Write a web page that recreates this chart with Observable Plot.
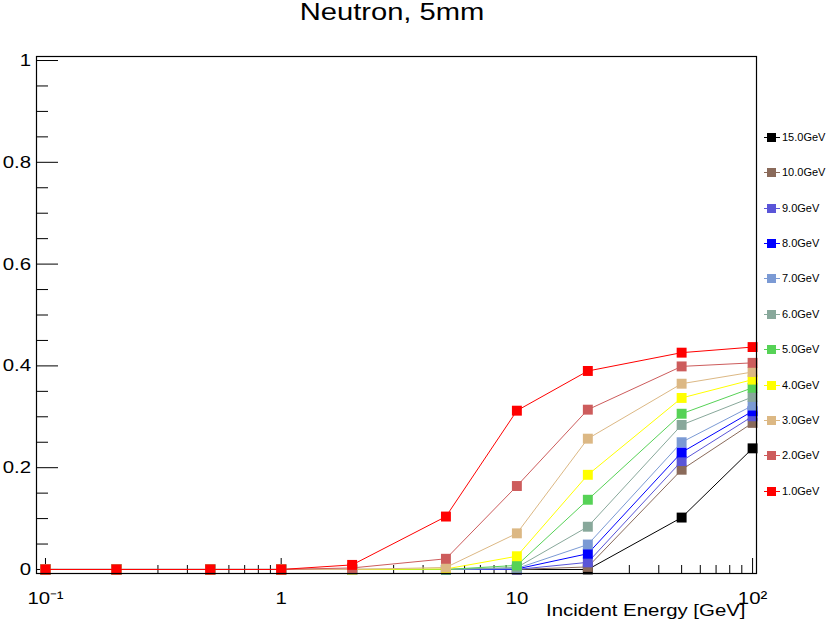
<!DOCTYPE html>
<html><head><meta charset="utf-8">
<script src="https://cdn.jsdelivr.net/npm/d3@7"></script>
<script src="https://cdn.jsdelivr.net/npm/@observablehq/plot@0.6"></script>
<style>
body{margin:0;background:#fff;font-family:"Liberation Sans",Arial,sans-serif;}
#wrap{position:relative;width:827px;height:621px;overflow:hidden;background:#fff}
#title{position:absolute;left:0;top:1px;width:784px;text-align:center;font-size:23.5px;line-height:23.5px;transform:scaleX(1.24);transform-origin:392px 0;color:#000}
.leg{position:absolute;left:762px;height:12px;font-size:11px;line-height:12px;color:#000;white-space:nowrap}
.leg .ln{position:absolute;left:2px;top:6px;width:16px;height:1px}
.leg .sq{position:absolute;left:5px;top:2px;width:9px;height:9px}
.leg .tx{position:absolute;left:20px;top:0}
</style></head><body>
<div id="wrap"><div id="title">Neutron, 5mm</div></div>
<script>
// Incident energies (x)
const energies = [0.1, 0.2, 0.5, 1, 2, 5, 10, 20, 50, 100];
// series labels, in legend order (top to bottom)
const seriesNames = ["15.0GeV","10.0GeV","9.0GeV","8.0GeV","7.0GeV","6.0GeV","5.0GeV","4.0GeV","3.0GeV","2.0GeV","1.0GeV"];
const seriesColors = ["#000000","#8a6a5a","#5a55d8","#0000ff","#7b9ad4","#88a89b","#56d256","#ffff00","#dcb884","#cd5c5c","#ff0000"];
// values per series
const eff15 = [0,0,0,0,0,0,0,0,0.102,0.238];
const eff10 = [0,0,0,0,0,0,0,0.005,0.196,0.288];
const eff9  = [0,0,0,0,0,0,0,0.014,0.213,0.301];
const eff8  = [0,0,0,0,0,0,0.001,0.031,0.230,0.311];
const eff7  = [0,0,0,0,0,0,0.002,0.049,0.250,0.322];
const eff6  = [0,0,0,0,0,0,0.004,0.084,0.284,0.339];
const eff5  = [0,0,0,0,0,0,0.008,0.137,0.306,0.357];
const eff4  = [0,0,0,0,0,0.001,0.026,0.186,0.337,0.373];
const eff3  = [0,0,0,0,0,0.004,0.071,0.257,0.365,0.388];
const eff2  = [0,0,0,0,0.003,0.021,0.164,0.314,0.399,0.406];
const eff1  = [0,0,0,0,0.009,0.104,0.312,0.390,0.426,0.437];
const seriesValues = [eff15,eff10,eff9,eff8,eff7,eff6,eff5,eff4,eff3,eff2,eff1];

// ticks
const yMajor = [0,0.2,0.4,0.6,0.8,1];
const yMajorLabels = ["0","0.2","0.4","0.6","0.8","1"];
const yMinor = [0.05,0.1,0.15,0.25,0.3,0.35,0.45,0.5,0.55,0.65,0.7,0.75,0.85,0.9,0.95];
const xMajor = [0.1,1,10,100];
const xMajorLabels = ["10\u207B\u00B9","1","10","10\u00B2"];
const xMinor = [0.2,0.3,0.4,0.5,0.6,0.7,0.8,0.9,2,3,4,5,6,7,8,9,20,30,40,50,60,70,80,90];
const xLabel = "Incident Energy [GeV]";

const rows = [];
seriesNames.forEach((name, i) => {
  seriesValues[i].forEach((v, j) => rows.push({series: name, energy: energies[j], eff: v}));
});

const seriesMarks = seriesNames.flatMap(name => {
  const d = rows.filter(r => r.series === name);
  return [
    Plot.line(d, {x: "energy", y: "eff", stroke: "series", strokeWidth: 1}),
    Plot.dot(d, {x: "energy", y: "eff", fill: "series", symbol: "square", r: 5.6, stroke: null})
  ];
});

const plot = Plot.plot({
  width: 827, height: 621,
  marginLeft: 36, marginRight: 71, marginTop: 56, marginBottom: 48,
  style: {fontFamily: "Liberation Sans, Arial, sans-serif", fontSize: "17px", background: "transparent", color: "black"},
  x: {type: "log", domain: [0.0916, 103.9]},
  y: {domain: [-0.0079, 1.0079]},
  color: {domain: seriesNames, range: seriesColors},
  marks: [
    Plot.axisY(yMajor, {tickSize: -22, tickPadding: 27.5, tickFormat: d => yMajorLabels[yMajor.indexOf(d)], label: null, fontSize: 17}),
    Plot.axisY(yMinor, {tickSize: -12, tickFormat: () => "", label: null}),
    Plot.axisX(xMajor, {tickSize: -15, tickPadding: 33, tickFormat: d => xMajorLabels[xMajor.indexOf(d)], label: null, fontSize: 17}),
    Plot.axisX(xMinor, {tickSize: -8, tickFormat: () => "", label: null}),
    ...seriesMarks,
    Plot.frame({stroke: "black", strokeWidth: 1.2}),
    Plot.text([xLabel], {frameAnchor: "bottom-right", dx: -11, dy: 37, textAnchor: "end", lineAnchor: "middle", fontSize: 17})
  ]
});
plot.style.position = "absolute";
plot.style.left = "0";
plot.style.top = "0";
const wrap = document.getElementById("wrap");
wrap.insertBefore(plot, wrap.firstChild);

// horizontal stretch of text to match the reference's wide glyphs
d3.select(plot).selectAll("text").each(function() {
  const t = this.getAttribute("transform") || "";
  this.setAttribute("transform", t + " scale(1.2,1)");
});

// legend
seriesNames.forEach((name, i) => {
  const el = document.createElement("div");
  el.className = "leg";
  el.style.top = (130.7 + i * 35.4) + "px";
  el.innerHTML = `<div class="ln" style="background:${seriesColors[i]}"></div><div class="sq" style="background:${seriesColors[i]}"></div><div class="tx">${name}</div>`;
  wrap.appendChild(el);
});
</script>
</body></html>
